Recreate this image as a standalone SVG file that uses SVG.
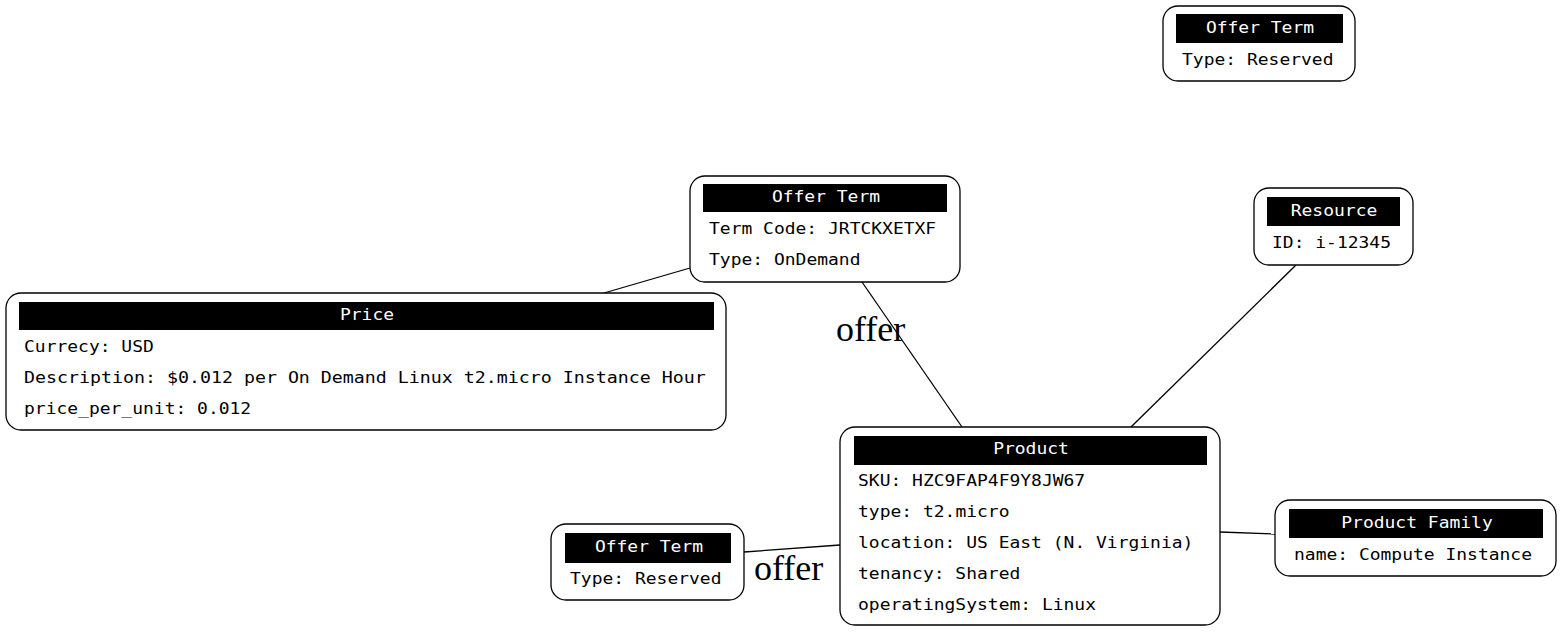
<svg xmlns="http://www.w3.org/2000/svg" width="1562" height="632" viewBox="0 0 1562 632">
<style>
.box{fill:#fff;stroke:#000;stroke-width:1.3}
.hdr{fill:#000;stroke:none}
.t{font-family:"DejaVu Sans Mono","Liberation Mono",monospace;font-size:15px;fill:#000}
.h{font-family:"DejaVu Sans Mono","Liberation Mono",monospace;font-size:15px;fill:#fff;text-anchor:middle}
.lbl{font-family:"Liberation Serif","DejaVu Serif",serif;font-size:36px;fill:#000}
.e{stroke:#000;stroke-width:1.3;fill:none}
</style>
<g id="edges">
<line class="e" x1="604" y1="293" x2="690" y2="268"/>
<line class="e" x1="862" y1="282" x2="962" y2="427"/>
<text class="lbl" x="836" y="341">offer</text>
<line class="e" x1="1296" y1="265" x2="1131" y2="427"/>
<line class="e" x1="744" y1="552" x2="840" y2="545"/>
<text class="lbl" x="754" y="580">offer</text>
<line class="e" x1="1220" y1="532" x2="1275" y2="534"/>
</g>
<g id="offer_term_reserved_top">
<rect class="box" x="1163" y="6" width="192" height="75" rx="15"/>
<rect class="hdr" x="1176" y="14" width="167" height="29"/>
<text class="h" x="1260" y="33" textLength="108.2" lengthAdjust="spacingAndGlyphs">Offer Term</text>
<text class="t" x="1182" y="65" textLength="151.5" lengthAdjust="spacingAndGlyphs">Type: Reserved</text>
</g>
<g id="offer_term_ondemand">
<rect class="box" x="690" y="176" width="270" height="106" rx="15"/>
<rect class="hdr" x="703" y="184" width="244" height="28"/>
<text class="h" x="826" y="202" textLength="108.2" lengthAdjust="spacingAndGlyphs">Offer Term</text>
<text class="t" x="709" y="234" textLength="227.2" lengthAdjust="spacingAndGlyphs">Term Code: JRTCKXETXF</text>
<text class="t" x="709" y="265" textLength="151.5" lengthAdjust="spacingAndGlyphs">Type: OnDemand</text>
</g>
<g id="resource">
<rect class="box" x="1254" y="188" width="159" height="77" rx="15"/>
<rect class="hdr" x="1267" y="197" width="133" height="29"/>
<text class="h" x="1334" y="216" textLength="86.6" lengthAdjust="spacingAndGlyphs">Resource</text>
<text class="t" x="1272" y="248" textLength="119" lengthAdjust="spacingAndGlyphs">ID: i-12345</text>
</g>
<g id="price">
<rect class="box" x="6" y="293" width="720" height="137" rx="15"/>
<rect class="hdr" x="19" y="302" width="695" height="28"/>
<text class="h" x="367" y="320" textLength="54.1" lengthAdjust="spacingAndGlyphs">Price</text>
<text class="t" x="24" y="352" textLength="129.8" lengthAdjust="spacingAndGlyphs">Currecy: USD</text>
<text class="t" x="24" y="383" textLength="681.7" lengthAdjust="spacingAndGlyphs">Description: $0.012 per On Demand Linux t2.micro Instance Hour</text>
<text class="t" x="24" y="414" textLength="227.2" lengthAdjust="spacingAndGlyphs">price_per_unit: 0.012</text>
</g>
<g id="product">
<rect class="box" x="840" y="427" width="380" height="198" rx="15"/>
<rect class="hdr" x="854" y="436" width="353" height="29"/>
<text class="h" x="1031" y="454" textLength="75.7" lengthAdjust="spacingAndGlyphs">Product</text>
<text class="t" x="858" y="486" textLength="227.2" lengthAdjust="spacingAndGlyphs">SKU: HZC9FAP4F9Y8JW67</text>
<text class="t" x="858" y="517" textLength="151.5" lengthAdjust="spacingAndGlyphs">type: t2.micro</text>
<text class="t" x="858" y="548" textLength="335.4" lengthAdjust="spacingAndGlyphs">location: US East (N. Virginia)</text>
<text class="t" x="858" y="579" textLength="162.3" lengthAdjust="spacingAndGlyphs">tenancy: Shared</text>
<text class="t" x="858" y="610" textLength="238" lengthAdjust="spacingAndGlyphs">operatingSystem: Linux</text>
</g>
<g id="offer_term_reserved_bottom">
<rect class="box" x="551" y="524" width="193" height="76" rx="15"/>
<rect class="hdr" x="565" y="533" width="166" height="30"/>
<text class="h" x="649" y="552" textLength="108.2" lengthAdjust="spacingAndGlyphs">Offer Term</text>
<text class="t" x="570" y="584" textLength="151.5" lengthAdjust="spacingAndGlyphs">Type: Reserved</text>
</g>
<g id="product_family">
<rect class="box" x="1275" y="500" width="281" height="76" rx="15"/>
<rect class="hdr" x="1289" y="509" width="254" height="29"/>
<text class="h" x="1417" y="528" textLength="151.5" lengthAdjust="spacingAndGlyphs">Product Family</text>
<text class="t" x="1294" y="560" textLength="238" lengthAdjust="spacingAndGlyphs">name: Compute Instance</text>
</g>
</svg>
